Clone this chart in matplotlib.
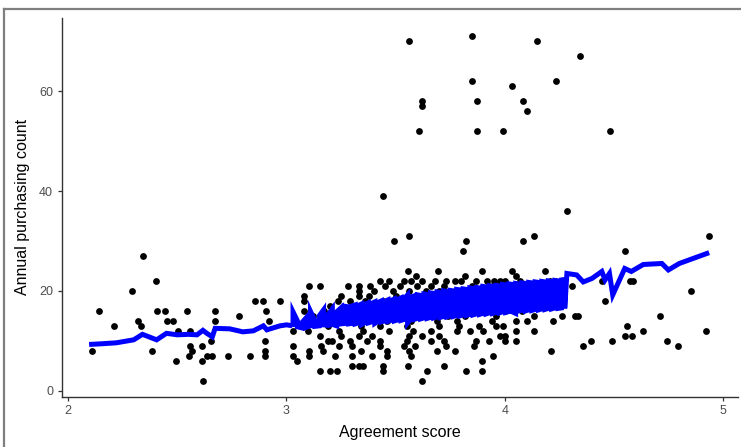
import numpy as np
import matplotlib
matplotlib.use("Agg")
import matplotlib.pyplot as plt
from matplotlib.lines import Line2D

plt.rcParams['font.family'] = ['Liberation Sans', 'DejaVu Sans']

# --- scatter data (x = agreement score, y = purchases) ---
# rows of the dense band, grouped by y value
rows = {
    24: [3.558, 3.694, 3.898, 4.034, 4.183],
    23: [3.594, 3.818, 4.05],
    22: [2.404, 3.43, 3.47, 3.54, 3.57, 3.62, 3.68, 3.73, 3.77, 3.80, 3.87, 3.92, 3.95, 3.98,
         4.00, 4.07, 4.207, 4.23, 4.445, 4.575, 4.59],
    21: [3.105, 3.154, 3.283, 3.33, 3.383, 3.45, 3.52, 3.60, 3.66, 3.72, 3.85, 3.93, 4.02, 4.31],
    20: [2.292, 3.33, 3.40, 3.49, 3.56, 3.64, 3.70, 3.79, 3.90, 3.97, 4.852],
    19: [3.08, 3.25, 3.33, 3.38, 3.50, 3.62, 3.75, 3.84, 3.95],
    18: [2.854, 2.894, 2.97, 3.08, 3.237, 3.29, 3.36, 3.44, 3.55, 3.68, 3.80, 3.91, 4.46],
    17: [3.20, 3.31, 3.47, 3.58, 3.71, 3.86, 4.02],
    16: [2.142, 2.408, 2.443, 2.543, 2.671, 2.908, 3.08, 3.17, 3.28, 3.40, 3.52, 3.63, 3.76,
         3.89, 4.00, 4.08],
    15: [2.782, 3.12, 3.26, 3.37, 3.48, 3.60, 3.74, 3.82, 3.96, 4.133, 4.263, 4.322, 4.334, 4.71],
    14: [2.319, 2.451, 2.481, 2.671, 2.92, 3.123, 3.22, 3.35, 3.46, 3.57, 3.69, 3.78, 3.94,
         4.05, 4.10, 4.223],
    13: [2.209, 2.332, 3.19, 3.34, 3.43, 3.55, 3.70, 3.79, 3.88, 3.96, 3.99, 4.561],
    12: [2.504, 2.558, 3.031, 3.10, 3.24, 3.35, 3.47, 3.58, 3.66, 3.78, 3.84, 3.90, 4.05,
         4.133, 4.635, 4.924],
    11: [3.154, 3.25, 3.33, 3.39, 3.56, 3.62, 3.70, 3.98, 4.00, 4.551, 4.585],
    10: [2.654, 2.90, 3.192, 3.21, 3.29, 3.37, 3.43, 3.55, 3.66, 3.72, 3.87, 3.93, 4.00, 4.05,
         4.394, 4.49, 4.745],
    9: [2.558, 2.611, 3.031, 3.16, 3.24, 3.30, 3.43, 3.54, 3.59, 3.73, 3.86, 4.36, 4.795],
    8: [2.107, 2.382, 2.565, 2.90, 3.105, 3.169, 3.34, 3.46, 3.56, 3.69, 3.77, 4.211],
    7: [2.555, 2.634, 2.66, 2.733, 2.833, 2.90, 3.031, 3.105, 3.22, 3.30, 3.39, 3.46, 3.57, 3.948],
    6: [2.492, 2.611, 3.05, 3.894],
    5: [3.30, 3.33, 3.35, 3.44, 3.558, 3.722],
    4: [3.154, 3.20, 3.23, 3.44, 3.643, 3.821, 3.894],
    2: [2.619, 3.62],
}

# points above the band
outlier_x = [2.342, 3.444, 3.494, 3.56, 3.821, 3.81, 4.084, 4.133, 4.284, 4.935, 4.551,
             3.561, 3.849, 3.849, 4.034, 3.622, 3.622, 3.874, 4.084, 4.10, 3.606, 3.874,
             3.994, 4.149, 4.345, 4.234, 4.484]
outlier_y = [27, 39, 30, 31, 30, 28, 30, 31, 36, 31, 28,
             70, 71, 62, 61, 58, 57, 58, 58, 56, 52, 52,
             52, 70, 67, 62, 52]

# --- fitted line (sorted by score) ---
fit_left_x = [2.107, 2.15, 2.22, 2.30, 2.34, 2.37, 2.405, 2.45, 2.50, 2.55, 2.59, 2.617,
              2.635, 2.66, 2.673, 2.74, 2.80, 2.848, 2.894, 2.91, 2.97, 3.00, 3.03]
fit_left_y = [9.3, 9.4, 9.6, 10.2, 11.3, 10.8, 10.2, 11.5, 11.2, 11.3, 11.2, 12.1,
              11.5, 10.8, 12.5, 12.4, 11.8, 12.0, 13.0, 12.2, 13.0, 13.2, 13.0]

# band part: each score has a low and a high fitted value
fit_mid_x = [3.03, 3.05, 3.07, 3.09, 3.11, 3.13, 3.15, 3.17, 3.19, 3.21, 3.23, 3.25, 3.27, 3.285,
             3.300, 3.315, 3.330, 3.345, 3.360, 3.375, 3.390, 3.405, 3.420, 3.435,
             3.450, 3.465, 3.480, 3.495, 3.510, 3.525, 3.540, 3.555, 3.570, 3.585,
             3.600, 3.615, 3.630, 3.645, 3.660, 3.675, 3.690, 3.705, 3.720, 3.735,
             3.750, 3.765, 3.780, 3.795, 3.810, 3.825, 3.840, 3.855, 3.870, 3.885,
             3.900, 3.915, 3.930, 3.945, 3.960, 3.975, 3.990, 4.005, 4.020, 4.035,
             4.050, 4.065, 4.080, 4.095, 4.110, 4.125, 4.140, 4.155, 4.170, 4.185,
             4.200, 4.215, 4.230, 4.245, 4.260, 4.275]
fit_mid_lo = [12.8, 12.8, 12.6, 12.7, 13.0, 12.9, 13.0, 13.2, 13.1, 13.3, 13.0, 13.4, 13.5, 13.4,
              13.5, 13.4, 13.6, 13.3, 13.7, 13.6, 13.8, 13.5, 13.9, 13.8,
              14.0, 13.9, 14.1, 14.0, 14.2, 14.1, 14.3, 13.6, 14.4, 14.3,
              14.5, 14.4, 14.6, 14.5, 14.7, 14.6, 14.8, 14.7, 14.9, 14.8,
              15.0, 14.9, 15.1, 15.0, 15.2, 15.1, 15.3, 15.2, 15.4, 15.3,
              15.5, 15.4, 15.6, 15.5, 15.7, 15.6, 15.8, 15.7, 15.9, 15.8,
              15.5, 16.0, 16.1, 16.0, 16.2, 16.1, 16.3, 16.2, 16.4, 16.3,
              16.5, 16.4, 16.6, 16.5, 16.6, 16.5]
fit_mid_hi = [15.8, 14.0, 13.6, 14.6, 15.9, 14.0, 15.0, 16.2, 15.2, 16.4, 15.8, 16.6, 16.9, 16.8,
              17.0, 17.2, 17.1, 17.4, 17.3, 17.6, 17.5, 17.8, 17.7, 18.0,
              17.9, 18.2, 18.1, 18.4, 18.3, 18.6, 18.5, 19.2, 18.8, 19.0,
              19.2, 19.1, 19.4, 19.3, 19.6, 19.5, 19.8, 19.7, 20.0, 19.9,
              20.1, 20.0, 20.3, 20.2, 20.4, 20.3, 20.6, 20.5, 20.7, 20.6,
              20.9, 20.8, 21.0, 20.9, 21.1, 21.0, 21.3, 21.2, 21.4, 21.3,
              21.5, 21.4, 21.6, 21.5, 21.7, 21.6, 21.8, 21.7, 21.9, 21.8,
              22.0, 21.9, 22.1, 22.0, 22.2, 22.3]
fit_right_x = [4.285, 4.33, 4.36, 4.40, 4.445, 4.46, 4.48, 4.495, 4.55, 4.58, 4.635,
               4.72, 4.75, 4.80, 4.926]
fit_right_y = [23.5, 23.2, 21.8, 22.5, 23.9, 22.2, 23.5, 19.2, 24.5, 23.9, 25.3,
               25.5, 24.2, 25.5, 27.5]

# assemble scatter arrays
pts_x, pts_y = [], []
for yv, xs in rows.items():
    pts_x += xs
    pts_y += [yv] * len(xs)
pts_x += outlier_x
pts_y += outlier_y

# assemble the zig-zag line through the band
line_x = list(fit_left_x)
line_y = list(fit_left_y)
for i, (xv, lo, hi) in enumerate(zip(fit_mid_x, fit_mid_lo, fit_mid_hi)):
    pair = [lo, hi] if i % 2 == 0 else [hi, lo]
    line_x += [xv, xv]
    line_y += pair
line_x += fit_right_x
line_y += fit_right_y

W, H = 741, 447
fig = plt.figure(figsize=(W / 100, H / 100), dpi=100)
ax = fig.add_axes([61.5 / W, (H - 397) / H, (738 - 61.5) / W, (397 - 18) / H])

ax.scatter(pts_x, pts_y, s=24, color='black', linewidths=0, zorder=2)
ax.plot(line_x, line_y, color='#0000FF', lw=3.6, solid_joinstyle='miter', zorder=3)

ax.set_xlim(1.969, 5.069)
ax.set_ylim(-1.26, 74.7)
ax.set_xticks([2, 3, 4, 5])
ax.set_yticks([0, 20, 40, 60])

for side in ['top', 'right']:
    ax.spines[side].set_visible(False)
for side in ['left', 'bottom']:
    ax.spines[side].set_color('#333333')
    ax.spines[side].set_linewidth(1.0)
ax.tick_params(axis='both', colors='#333333', length=3, width=0.9,
               labelsize=9, labelcolor='#4D4D4D', pad=3)

fig.text(400 / W, 1 - 432 / H, 'Agreement score', ha='center', va='center', fontsize=11.5)
fig.text(22.5 / W, 1 - 207 / H, 'Annual purchasing count', ha='center', va='center',
         rotation=90, fontsize=11.5)

# grey frame of the original screenshot
fig.add_artist(Line2D([4 / W, 1], [1 - 9 / H, 1 - 9 / H], transform=fig.transFigure,
                      color='#7f7f7f', lw=1.6))
fig.add_artist(Line2D([4 / W, 4 / W], [0, 1 - 9 / H], transform=fig.transFigure,
                      color='#7f7f7f', lw=1.6))

fig.savefig('out.png', dpi=100)
